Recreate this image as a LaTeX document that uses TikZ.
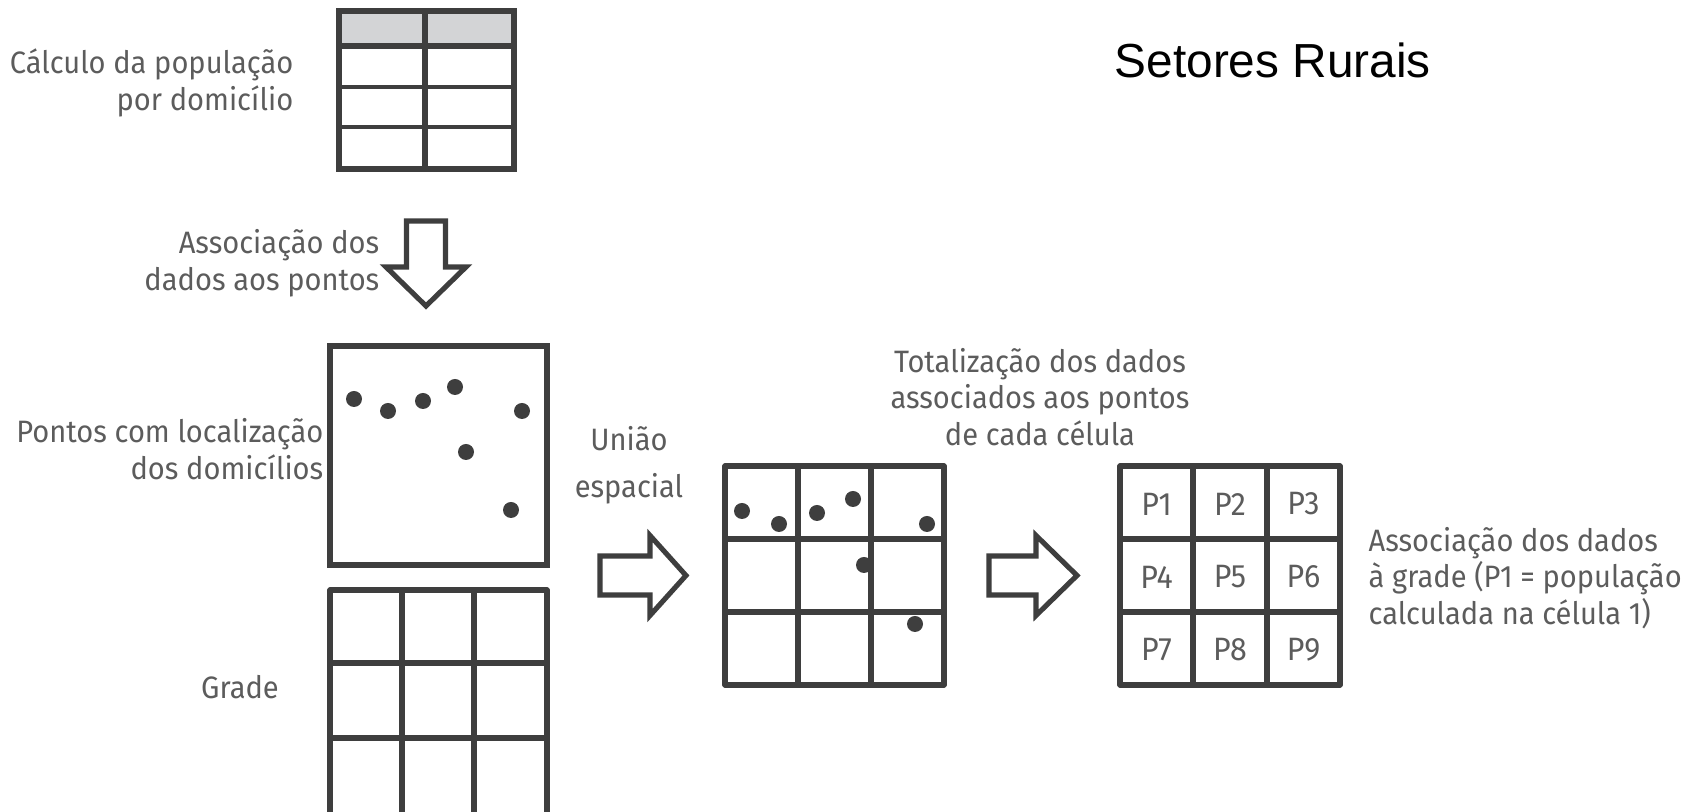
\documentclass[tikz,border=0pt]{standalone}
\usepackage{fontspec}
\setmainfont{Fira Sans}[FakeStretch=0.94]
\newfontfamily\titlefont{Liberation Sans}
\definecolor{lineC}{HTML}{3E3E3E}
\definecolor{textC}{HTML}{5C5C5C}
\definecolor{headC}{HTML}{D3D4D6}

\begin{document}
\begin{tikzpicture}[line cap=round, line join=miter,
  thickln/.style={draw=lineC, line width=1.45pt},
  thinln/.style={draw=lineC, line width=0.9pt},
  lbl/.style={text=textC, font=\fontsize{8.8}{10.4}\selectfont, inner sep=0pt}]
\useasboundingbox (0,0) rectangle (17.08,8.12);
\clip (0,0) rectangle (17.08,8.12);
% 标题
\node[anchor=base west, inner sep=0pt, font=\titlefont\fontsize{13.6}{16}\selectfont] (titulo) at (11.14,7.34) {Setores Rurais};
% 人口表
\fill[headC] (3.39,8.01) rectangle (5.14,7.66);
\draw[thinln] (3.39,7.25) -- (5.14,7.25) (3.39,6.85) -- (5.14,6.85);
\draw[thickln] (3.39,7.66) -- (5.14,7.66) (4.25,8.01) -- (4.25,6.43);
\draw[thickln] (3.39,8.01) rectangle (5.14,6.43);
\node[lbl, anchor=east, align=right] (calculo) at (2.94,7.29) {Cálculo da população\\por domicílio};
% 向下的箭头
\draw[thickln] (4.065,5.91) -- (4.455,5.91) -- (4.455,5.45) -- (4.66,5.45)
  -- (4.26,5.06) -- (3.86,5.45) -- (4.065,5.45) -- cycle;
\node[lbl, anchor=east, align=right] (assoc) at (3.80,5.49) {Associação dos\\dados aos pontos};
% 住户点
\draw[thickln] (3.30,4.66) rectangle (5.47,2.47);
\foreach \p in {(3.54,4.13),(3.88,4.01),(4.23,4.11),(4.55,4.25),(5.22,4.01),(4.66,3.60),(5.11,3.02)}
  \fill[lineC] \p circle (0.08);
\node[lbl, anchor=east, align=right] (pontos) at (3.24,3.63) {Pontos com localização\\dos domicílios};
% 网格
\foreach \x in {3.30,4.02,4.74,5.47}
  \draw[thickln] (\x,2.22) -- (\x,-0.2);
\foreach \y in {2.22,1.49,0.74}
  \draw[thickln] (3.30,\y) -- (5.47,\y);
\node[lbl] (grade) at (2.40,1.25) {Grade};
% 空间连接
\node[lbl, align=center] (uniao) at (6.29,3.47) {União\\[1mm]espacial};
\draw[thickln] (6.00,2.56) -- (6.50,2.56) -- (6.50,2.765) -- (6.86,2.365)
  -- (6.50,1.965) -- (6.50,2.17) -- (6.00,2.17) -- cycle;
\foreach \x in {7.25,7.98,8.71,9.44}
  \draw[thickln] (\x,3.46) -- (\x,1.27);
\foreach \y in {3.46,2.73,2.00,1.27}
  \draw[thickln] (7.25,\y) -- (9.44,\y);
\foreach \p in {(7.42,3.01),(7.79,2.88),(8.17,2.99),(8.53,3.13),(9.27,2.88),(8.64,2.47),(9.15,1.88)}
  \fill[lineC] \p circle (0.08);
\node[lbl, align=center] (total) at (10.40,4.15) {Totalização dos dados\\associados aos pontos\\de cada célula};
% 汇总
\draw[thickln] (9.89,2.56) -- (10.36,2.56) -- (10.36,2.765) -- (10.77,2.365)
  -- (10.36,1.965) -- (10.36,2.17) -- (9.89,2.17) -- cycle;
\foreach \x in {11.20,11.93,12.67,13.40}
  \draw[thickln] (\x,3.46) -- (\x,1.27);
\foreach \y in {3.46,2.73,2.00,1.27}
  \draw[thickln] (11.20,\y) -- (13.40,\y);
\foreach \i in {1,...,9} {
  \pgfmathsetmacro{\cx}{11.565+0.735*mod(\i-1,3)}
  \pgfmathsetmacro{\cy}{3.08-0.73*div(\i-1,3)}
  \node[lbl, font=\fontsize{9.2}{11}\selectfont] (p\i) at (\cx,\cy) {P\i};
}
\node[lbl, anchor=west, align=left] (grelha) at (13.68,2.34) {Associação dos dados\\à grade (P1 = população\\calculada na célula 1)};
\end{tikzpicture}
\end{document}
